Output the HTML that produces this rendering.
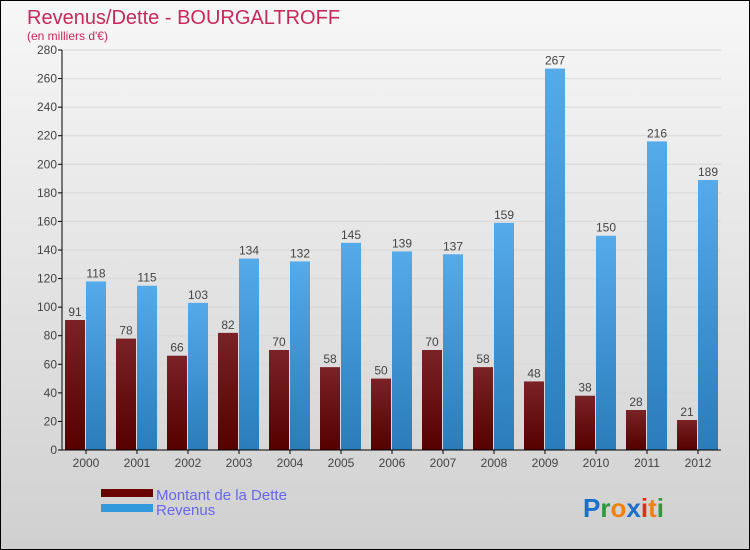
<!DOCTYPE html>
<html><head><meta charset="utf-8"><style>
body{margin:0;}
#c{position:relative;width:748px;height:548px;border:1px solid #000;background:linear-gradient(#f7f7f7,#d0d0d0);font-family:"Liberation Sans",sans-serif;overflow:hidden;}
</style></head><body>
<div id="c">
<svg width="748" height="548" id="s">
<defs>
<linearGradient id="gd" x1="0" y1="0" x2="0" y2="1"><stop offset="0" stop-color="#7a2226"/><stop offset="1" stop-color="#560000"/></linearGradient>
<linearGradient id="gr" x1="0" y1="0" x2="0" y2="1"><stop offset="0" stop-color="#55aaea"/><stop offset="1" stop-color="#2a7cba"/></linearGradient>
</defs>
<text x="26" y="23" font-size="20" fill="#c8285a">Revenus/Dette - BOURGALTROFF</text>
<text x="26" y="39" font-size="12" fill="#c8285a">(en milliers d'€)</text>
<g id="g"></g>
<rect x="100" y="488" width="52" height="8" fill="#6a0000"/>
<rect x="100" y="503" width="52" height="8" fill="#3399dd"/>
<text x="155" y="499" font-size="15" fill="#6666ee">Montant de la Dette</text>
<text x="155" y="514" font-size="15" fill="#6666ee">Revenus</text>
<text x="582" y="516" font-size="26" font-weight="bold"><tspan fill="#1a6fcc">P</tspan><tspan fill="#2a9a3a">r</tspan><tspan fill="#f08010">o</tspan><tspan fill="#1a6fcc">x</tspan><tspan fill="#e03010">i</tspan><tspan fill="#f08010">t</tspan><tspan fill="#2a9a3a">i</tspan></text>
</svg>
</div>
<script>
const years=["2000","2001","2002","2003","2004","2005","2006","2007","2008","2009","2010","2011","2012"];
const dette=[91,78,66,82,70,58,50,70,58,48,38,28,21];
const revenus=[118,115,103,134,132,145,139,137,159,267,150,216,189];
const yTicks=[0,20,40,60,80,100,120,140,160,180,200,220,240,260,280];
const NS="http://www.w3.org/2000/svg";
const g=document.getElementById('g');
const y0=449,yScale=400/280,x0=61;
function Y(v){return y0-v*yScale;}
function X(i){return 64+51*i;}
function mk(t,a){const e=document.createElementNS(NS,t);for(const k in a)e.setAttribute(k,a[k]);g.appendChild(e);return e;}
yTicks.forEach(v=>{
 const gl=mk('line',{x1:x0,x2:720,y1:Y(v),y2:Y(v),stroke:'#d8d8d8','stroke-width':1});
 
 
 const tk=mk('line',{x1:x0-4,x2:x0,y1:Y(v),y2:Y(v),stroke:'#000'});
 
 
 const t=mk('text',{x:x0-5,y:Y(v)+4,'font-size':12,fill:'#444','text-anchor':'end'});
 t.textContent=v;
 
 
});
years.forEach((yr,i)=>{
 const x=X(i);
 const b1=mk('rect',{x:x,y:Y(dette[i]),width:20,height:dette[i]*yScale,fill:'url(#gd)'});
 
 
 const b2=mk('rect',{x:x+21,y:Y(revenus[i]),width:20,height:revenus[i]*yScale,fill:'url(#gr)'});
 
 
 const l1=mk('text',{x:x+10,y:Y(dette[i])-4,'font-size':12,fill:'#444','text-anchor':'middle'});
 l1.textContent=dette[i];
 
 
 const l2=mk('text',{x:x+31,y:Y(revenus[i])-4,'font-size':12,fill:'#444','text-anchor':'middle'});
 l2.textContent=revenus[i];
 
 
 const tk=mk('line',{x1:x+21,x2:x+21,y1:y0,y2:y0+4,stroke:'#000'});
 
 
 const t=mk('text',{x:x+21,y:y0+17,'font-size':12,fill:'#444','text-anchor':'middle'});
 t.textContent=yr;
 
 
});
const ax=mk('line',{x1:x0,x2:x0,y1:Y(280),y2:y0,stroke:'#000'});


const axx=mk('line',{x1:x0,x2:720,y1:y0,y2:y0,stroke:'#000'});


</script>
</body></html>
